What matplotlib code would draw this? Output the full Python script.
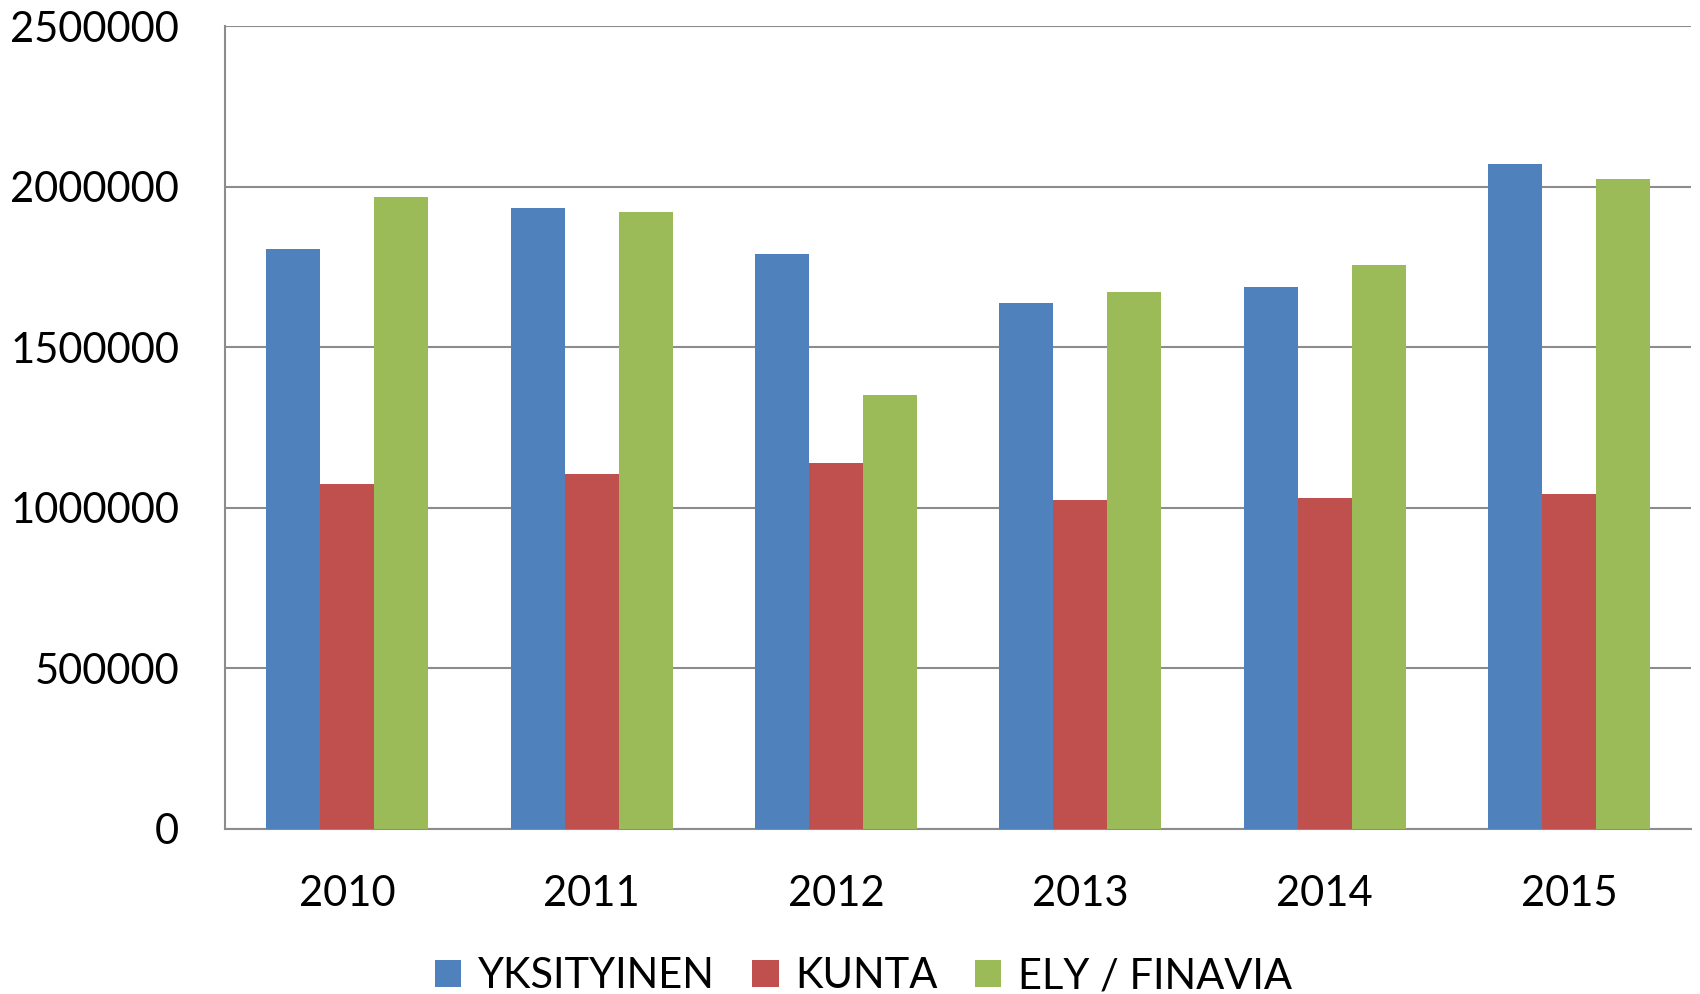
import matplotlib
matplotlib.use("Agg")
import matplotlib.pyplot as plt
import numpy as np
from matplotlib.patches import Patch

years = ["2010", "2011", "2012", "2013", "2014", "2015"]
yksityinen = [1806000, 1932000, 1791000, 1638000, 1686000, 2069000]
kunta = [1075000, 1104000, 1141000, 1024000, 1031000, 1044000]
ely_finavia = [1969000, 1921000, 1350000, 1671000, 1757000, 2024000]
series_names = ["YKSITYINEN", "KUNTA", "ELY / FINAVIA"]
colors = ["#4F81BD", "#C0504D", "#9BBB59"]
yticks = [0, 500000, 1000000, 1500000, 2000000, 2500000]

plt.rcParams['font.family'] = ['Lato', 'DejaVu Sans']

fig = plt.figure(figsize=(17, 9.94), dpi=100)
ax = fig.add_axes([0.1324, 0.166, 0.8623, 0.8078])

x = np.arange(len(years))
w = 0.221
for i, (vals, c) in enumerate(zip([yksityinen, kunta, ely_finavia], colors)):
    ax.bar(x + (i - 1) * w, vals, width=w, color=c, zorder=3, linewidth=0)

ax.set_xlim(-0.5, len(years) - 0.5)
ax.set_ylim(0, 2500000)
ax.set_yticks(yticks)
ax.set_yticklabels([str(v) for v in yticks])
ax.set_xticks(x)
ax.set_xticklabels(years)
ax.yaxis.grid(True, color="#8C8C8C", linewidth=1.5, zorder=0)
ax.set_axisbelow(True)
for s in ["top", "right"]:
    ax.spines[s].set_visible(False)
for s in ["left", "bottom"]:
    ax.spines[s].set_color("#8C8C8C")
    ax.spines[s].set_linewidth(1.5)
ax.tick_params(axis="both", length=0, labelsize=30, colors="black")
ax.tick_params(axis="y", pad=33)
ax.tick_params(axis="x", pad=33)

handles = [Patch(facecolor=c, edgecolor="none") for c in colors]
fig.legend(handles, series_names, loc="center", bbox_to_anchor=(0.508, 0.018),
           ncol=3, frameon=False, fontsize=30, handlelength=0.63, handleheight=0.63,
           handletextpad=0.4, columnspacing=0.9)

fig.savefig("out.png", dpi=100, facecolor="white")
